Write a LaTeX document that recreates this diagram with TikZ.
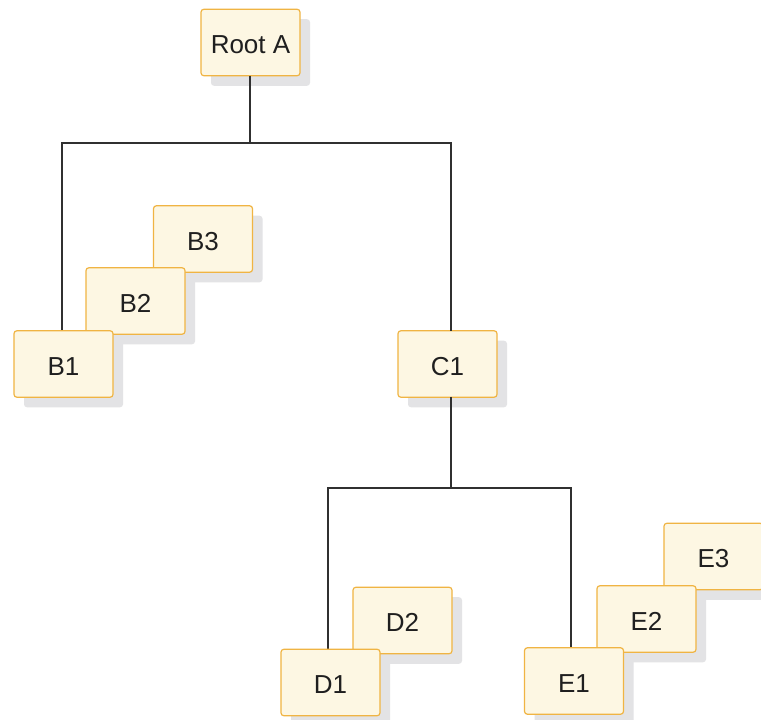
\documentclass[tikz,border=0pt]{standalone}
\usepackage{fontspec}
\setmainfont{Liberation Sans}
\usetikzlibrary{shadows}
\definecolor{boxfill}{HTML}{FDF7E3}
\definecolor{boxline}{HTML}{F0B443}
\definecolor{shadowgray}{HTML}{E3E3E5}
\definecolor{linkgray}{HTML}{303030}
\tikzset{
  tbox/.style={draw=boxline, fill=boxfill, line width=0.9pt, rounded corners=2.2pt,
    minimum width=74.25pt, minimum height=49.9pt, inner sep=0pt,
    text height=16.8pt, text depth=0pt,
    font=\fontsize{19.5}{23}\selectfont, text=black!88,
    drop shadow={shadow xshift=7.5pt, shadow yshift=-7.5pt, fill=shadowgray, opacity=1, draw=none}},
  link/.style={draw=linkgray, line width=0.8pt}
}
\begin{document}
\begin{tikzpicture}[x=0.75pt,y=-0.75pt]
\clip (0,0) rectangle (761,720);
\fill[white] (0,0) rectangle (761,720);
% nodes
\node[tbox] (A) at (250.5,42.5) {Root A};
\node[tbox] (B3) at (203,239) {B3};
\node[tbox] (B2) at (135.5,301) {B2};
\node[tbox] (C1) at (447.5,364) {C1};
\node[tbox] (E3) at (713.5,556.5) {E3};
\node[tbox] (E2) at (646.5,619) {E2};
\node[tbox] (D2) at (402.5,620.5) {D2};
% junction coordinates
\coordinate (jA) at (250,143);
\coordinate (jB) at (62,143);
\coordinate (jC) at (451,143);
\coordinate (jC1) at (451,488);
\coordinate (jD) at (328,488);
\coordinate (jE) at (571,488);
\coordinate (B1top) at (62,331);
\coordinate (C1top) at (451,331);
\coordinate (C1bot) at (451,397);
\coordinate (Atop) at (250,76);
\coordinate (D1top) at (328,649);
\coordinate (E1top) at (571,648);
\draw[link] (Atop) -- (jA);
\draw[link] (B1top) -- (jB) -- (jC) -- (C1top);
\draw[link] (C1bot) -- (jC1);
\draw[link] (D1top) -- (jD) -- (jE) -- (E1top);
\node[tbox] (B1) at (63.5,364) {B1};
\node[tbox] (D1) at (330.5,682.5) {D1};
\node[tbox] (E1) at (574,681) {E1};
\end{tikzpicture}
\end{document}
